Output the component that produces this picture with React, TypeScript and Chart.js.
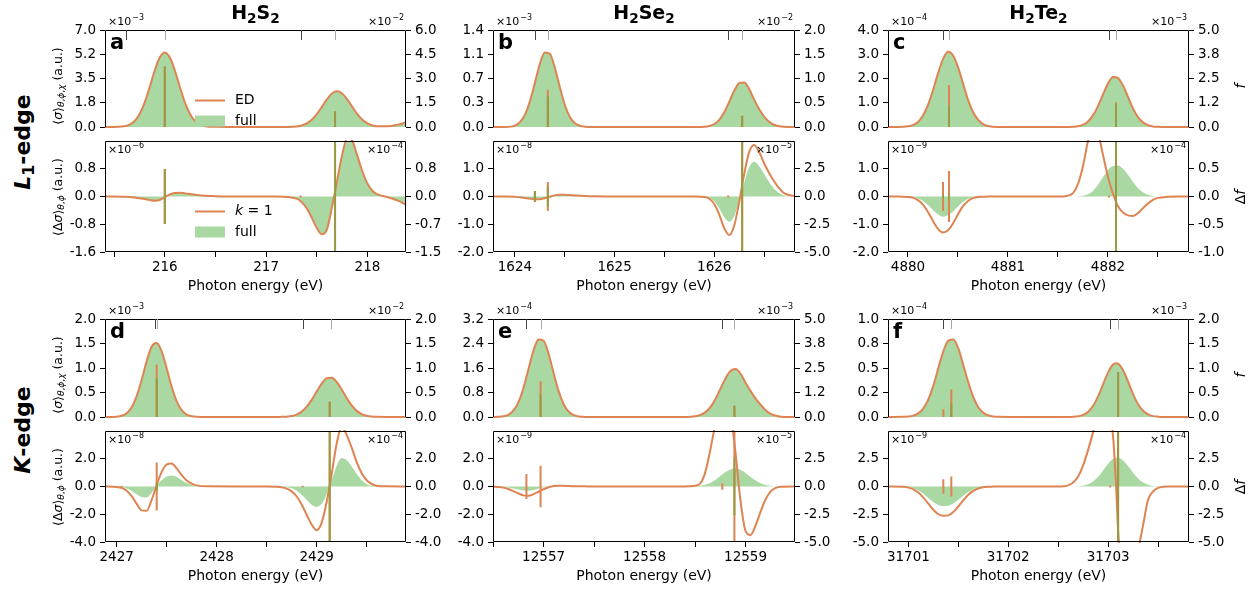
import React, { useEffect, useRef } from "react";
import { Chart, registerables } from "chart.js";
Chart.register(...registerables);

// ================= DATA =================
// ---- panel a : H2S2, L1-edge ----
const A_X = [215.41, 215.6, 215.7, 215.75, 215.8, 215.85, 215.9, 215.95, 216.0, 216.05, 216.1, 216.15, 216.2, 216.25, 216.3, 216.4, 216.5, 216.7, 216.9, 217.1, 217.3, 217.35, 217.4, 217.45, 217.5, 217.55, 217.6, 217.65, 217.7, 217.75, 217.8, 217.85, 217.9, 217.95, 218.0, 218.05, 218.1, 218.2, 218.3, 218.38];
const A_TOP = [0, 0.06, 0.42, 0.92, 1.74, 2.85, 4.06, 5.01, 5.38, 5.01, 4.06, 2.85, 1.74, 0.92, 0.42, 0.06, 0.01, 0, 0, 0, 0.04, 0.11, 0.26, 0.52, 0.93, 1.45, 2.0, 2.42, 2.58, 2.42, 2.0, 1.45, 0.93, 0.52, 0.26, 0.11, 0.05, 0.05, 0.17, 0.33];
const A_K1 = [0, -0.01, -0.03, -0.05, -0.07, -0.1, -0.12, -0.1, -0.02, 0.06, 0.1, 0.11, 0.09, 0.07, 0.05, 0.02, 0.01, 0, 0, 0, -0.06, -0.16, -0.34, -0.61, -0.91, -1.09, -0.95, -0.3, 0.45, 1.2, 1.68, 1.6, 1.17, 0.72, 0.37, 0.16, 0.06, -0.02, -0.12, -0.24];
const A_FULL = [0, -0.01, -0.03, -0.05, -0.07, -0.09, -0.11, -0.09, -0.02, 0.05, 0.09, 0.1, 0.08, 0.06, 0.04, 0.02, 0.01, 0, 0, 0, -0.05, -0.15, -0.32, -0.58, -0.88, -1.06, -0.93, -0.3, 0.42, 1.15, 1.6, 1.55, 1.15, 0.7, 0.36, 0.15, 0.05, -0.02, -0.1, -0.2];
const A_XRANGE = [215.41, 218.38];
const A_XMAJOR = [216, 217, 218];
const A_XMINOR = [215.5, 216.5, 217.5];
const A_TL = [0, 7];
const A_TL_LAB = ["0.0", "1.8", "3.5", "5.2", "7.0"];
const A_TR = [0, 6];
const A_TR_LAB = ["0.0", "1.5", "3.0", "4.5", "6.0"];
const A_BL = [-1.6, 1.6];
const A_BL_LAB = ["-1.6", "-0.8", "0.0", "0.8"];
const A_BR = [-1.5, 1.5];
const A_BR_LAB = ["-1.5", "-0.7", "0.0", "0.8"];
const A_EXP = ["-3", "-2", "-6", "-4"];
const A_ST_X = [216.0, 217.68];
const A_ST_ED = [3.75, 0.96];
const A_ST_FULL = [3.75, 0.96];
const A_SB_X = [216.0, 217.34, 217.68];
const A_SB_K1 = [0.74, 0.03, 2.0];
const A_SB_FULL = [0.74, 0, 2.0];
const A_MARKS = [215.62, 216.0, 217.34, 217.68];

// ---- panel b : H2Se2, L1-edge ----
const B_X = [1623.78, 1623.9, 1624.0, 1624.05, 1624.1, 1624.15, 1624.2, 1624.25, 1624.3, 1624.35, 1624.4, 1624.45, 1624.5, 1624.55, 1624.6, 1624.65, 1624.7, 1624.8, 1625.0, 1625.3, 1625.6, 1625.8, 1625.9, 1625.95, 1626.0, 1626.05, 1626.1, 1626.15, 1626.2, 1626.25, 1626.3, 1626.35, 1626.4, 1626.45, 1626.5, 1626.55, 1626.6, 1626.65, 1626.7, 1626.81];
const B_TOP = [0, 0, 0.02, 0.07, 0.175, 0.37, 0.635, 0.91, 1.077, 1.057, 0.858, 0.577, 0.321, 0.148, 0.057, 0.018, 0.005, 0, 0, 0, 0, 0, 0.004, 0.015, 0.043, 0.104, 0.212, 0.362, 0.522, 0.632, 0.643, 0.55, 0.395, 0.26, 0.15, 0.075, 0.032, 0.012, 0.004, 0];
const B_K1 = [0, 0, -0.01, -0.03, -0.05, -0.08, -0.1, -0.1, -0.06, -0.01, 0.04, 0.06, 0.06, 0.05, 0.04, 0.03, 0.02, 0.01, 0, 0, 0, 0, -0.02, -0.08, -0.27, -0.65, -1.14, -1.39, -1.05, -0.2, 0.8, 1.6, 1.86, 1.6, 1.2, 0.85, 0.55, 0.3, 0.12, 0.01];
const B_FULL = [0, 0, -0.01, -0.02, -0.04, -0.06, -0.08, -0.08, -0.05, -0.01, 0.03, 0.05, 0.05, 0.04, 0.03, 0.02, 0.01, 0.01, 0, 0, 0, 0, -0.01, -0.05, -0.17, -0.42, -0.75, -0.91, -0.7, -0.15, 0.5, 1.05, 1.25, 1.1, 0.82, 0.52, 0.28, 0.12, 0.04, 0];
const B_XRANGE = [1623.78, 1626.81];
const B_XMAJOR = [1624, 1625, 1626];
const B_XMINOR = [1624.5, 1625.5, 1626.5];
const B_TL = [0, 1.4];
const B_TL_LAB = ["0.0", "0.3", "0.7", "1.1", "1.4"];
const B_TR = [0, 2];
const B_TR_LAB = ["0.0", "0.5", "1.0", "1.5", "2.0"];
const B_BL = [-2, 2];
const B_BL_LAB = ["-2.0", "-1.0", "0.0", "1.0"];
const B_BR = [-5, 5];
const B_BR_LAB = ["-5.0", "-2.5", "0.0", "2.5"];
const B_EXP = ["-3", "-2", "-8", "-5"];
const B_ST_X = [1624.33, 1626.28];
const B_ST_ED = [0.77, 0.23];
const B_ST_FULL = [0.63, 0.23];
const B_SB_X = [1624.2, 1624.33, 1626.14, 1626.28];
const B_SB_K1 = [0.5, 1.3, 0.1, 6];
const B_SB_FULL = [0.5, 0.9, 0, 6];
const B_MARKS = [1624.2, 1624.33, 1626.14, 1626.28];

// ---- panel c : H2Te2, L1-edge ----
const C_X = [4879.8, 4879.9, 4880.0, 4880.05, 4880.1, 4880.15, 4880.2, 4880.25, 4880.3, 4880.35, 4880.4, 4880.45, 4880.5, 4880.55, 4880.6, 4880.65, 4880.7, 4880.75, 4880.8, 4880.9, 4881.1, 4881.3, 4881.5, 4881.55, 4881.6, 4881.65, 4881.7, 4881.75, 4881.8, 4881.85, 4881.9, 4881.95, 4882.0, 4882.05, 4882.1, 4882.15, 4882.2, 4882.25, 4882.3, 4882.35, 4882.4, 4882.45, 4882.5, 4882.6, 4882.7, 4882.81];
const C_TOP = [0, 0, 0.03, 0.08, 0.21, 0.47, 0.91, 1.52, 2.21, 2.8, 3.1, 2.96, 2.47, 1.8, 1.13, 0.62, 0.3, 0.12, 0.045, 0.003, 0, 0, 0, 0, 0.003, 0.01, 0.03, 0.09, 0.23, 0.48, 0.86, 1.34, 1.79, 2.06, 2.02, 1.71, 1.24, 0.77, 0.41, 0.19, 0.075, 0.025, 0.008, 0, 0, 0];
const C_K1 = [0, 0, -0.02, -0.05, -0.13, -0.29, -0.56, -0.88, -1.17, -1.3, -1.22, -0.97, -0.64, -0.35, -0.16, -0.06, -0.02, -0.01, 0, 0, 0, 0, 0, 0, 0.03, 0.12, 0.45, 1.1, 2.0, 2.6, 2.3, 1.5, 0.7, 0.1, -0.35, -0.58, -0.68, -0.7, -0.6, -0.42, -0.25, -0.12, -0.05, -0.01, 0, 0];
const C_FULL = [0, 0, -0.01, -0.03, -0.07, -0.16, -0.31, -0.49, -0.65, -0.73, -0.68, -0.54, -0.36, -0.2, -0.09, -0.03, -0.01, 0, 0, 0, 0, 0, 0, 0, 0, 0, 0.01, 0.03, 0.08, 0.2, 0.42, 0.7, 0.95, 1.1, 1.12, 1.0, 0.78, 0.52, 0.3, 0.15, 0.06, 0.02, 0, 0, 0, 0];
const C_XRANGE = [4879.8, 4882.81];
const C_XMAJOR = [4880, 4881, 4882];
const C_XMINOR = [4880.5, 4881.5, 4882.5];
const C_TL = [0, 4];
const C_TL_LAB = ["0.0", "1.0", "2.0", "3.0", "4.0"];
const C_TR = [0, 5];
const C_TR_LAB = ["0.0", "1.2", "2.5", "3.8", "5.0"];
const C_BL = [-2, 2];
const C_BL_LAB = ["-2.0", "-1.0", "0.0", "1.0"];
const C_BR = [-1, 1];
const C_BR_LAB = ["-1.0", "-0.5", "0.0", "0.5"];
const C_EXP = ["-4", "-3", "-9", "-4"];
const C_ST_X = [4880.41, 4882.08];
const C_ST_ED = [2.17, 1.27];
const C_ST_FULL = [1.1, 1.2];
const C_SB_X = [4880.35, 4880.41, 4882.01, 4882.08];
const C_SB_K1 = [0.26, 0.46, 0.02, 1.3];
const C_SB_FULL = [0.03, 0.05, 0, 1.3];
const C_MARKS = [4880.35, 4880.41, 4882.01, 4882.08];

// ---- panel d : H2S2, K-edge ----
const D_X = [2426.883, 2427.0, 2427.05, 2427.1, 2427.15, 2427.2, 2427.25, 2427.3, 2427.35, 2427.4, 2427.45, 2427.5, 2427.55, 2427.6, 2427.65, 2427.7, 2427.75, 2427.8, 2427.9, 2428.2, 2428.5, 2428.6, 2428.65, 2428.7, 2428.75, 2428.8, 2428.85, 2428.9, 2428.95, 2429.0, 2429.05, 2429.1, 2429.15, 2429.2, 2429.25, 2429.3, 2429.35, 2429.4, 2429.45, 2429.5, 2429.55, 2429.6, 2429.7, 2429.893];
const D_TOP = [0, 0.007, 0.026, 0.078, 0.2, 0.425, 0.76, 1.14, 1.44, 1.51, 1.34, 0.99, 0.615, 0.32, 0.14, 0.05, 0.016, 0.004, 0, 0, 0, 0, 0.004, 0.007, 0.02, 0.05, 0.11, 0.21, 0.35, 0.52, 0.68, 0.79, 0.8, 0.71, 0.56, 0.385, 0.235, 0.125, 0.06, 0.025, 0.009, 0.003, 0, 0];
const D_K1 = [0, -0.03, -0.1, -0.3, -0.7, -1.25, -1.72, -1.75, -0.95, 0.1, 1.05, 1.6, 1.65, 1.3, 0.82, 0.43, 0.2, 0.08, 0.01, 0, 0, -0.02, -0.06, -0.15, -0.35, -0.72, -1.3, -2.05, -2.75, -3.15, -2.6, -1.1, 0.9, 3.1, 4.3, 3.7, 2.8, 1.75, 0.95, 0.45, 0.18, 0.06, 0.01, 0];
const D_FULL = [0, -0.01, -0.05, -0.14, -0.32, -0.56, -0.76, -0.8, -0.45, 0.05, 0.45, 0.72, 0.8, 0.68, 0.45, 0.25, 0.11, 0.04, 0, 0, 0, 0, -0.02, -0.05, -0.13, -0.3, -0.6, -0.98, -1.32, -1.47, -1.25, -0.55, 0.45, 1.5, 2.05, 1.9, 1.45, 0.9, 0.45, 0.17, 0.05, 0.01, 0, 0];
const D_XRANGE = [2426.883, 2429.893];
const D_XMAJOR = [2427, 2428, 2429];
const D_XMINOR = [2427.5, 2428.5, 2429.5];
const D_TL = [0, 2];
const D_TL_LAB = ["0.0", "0.5", "1.0", "1.5", "2.0"];
const D_TR = [0, 2];
const D_TR_LAB = ["0.0", "0.5", "1.0", "1.5", "2.0"];
const D_BL = [-4, 4];
const D_BL_LAB = ["-4.0", "-2.0", "0.0", "2.0"];
const D_BR = [-4, 4];
const D_BR_LAB = ["-4.0", "-2.0", "0.0", "2.0"];
const D_EXP = ["-3", "-2", "-8", "-4"];
const D_ST_X = [2427.4, 2429.13];
const D_ST_ED = [1.07, 0.31];
const D_ST_FULL = [0.79, 0.31];
const D_SB_X = [2427.05, 2427.4, 2428.86, 2429.13];
const D_SB_K1 = [0.05, 1.73, 0.05, 5];
const D_SB_FULL = [0, 0.3, 0, 5];
const D_MARKS = [2427.38, 2427.4, 2428.86, 2429.14];

// ---- panel e : H2Se2, K-edge ----
const E_X = [12556.5, 12556.55, 12556.6, 12556.65, 12556.7, 12556.75, 12556.8, 12556.85, 12556.9, 12556.95, 12557.0, 12557.05, 12557.1, 12557.15, 12557.2, 12557.25, 12557.3, 12557.35, 12557.4, 12557.5, 12557.8, 12558.1, 12558.4, 12558.45, 12558.5, 12558.55, 12558.6, 12558.65, 12558.7, 12558.75, 12558.8, 12558.85, 12558.9, 12558.95, 12559.0, 12559.05, 12559.1, 12559.15, 12559.2, 12559.25, 12559.3, 12559.35, 12559.49];
const E_TOP = [0, 0.005, 0.022, 0.073, 0.205, 0.48, 0.94, 1.56, 2.17, 2.53, 2.49, 2.06, 1.43, 0.835, 0.41, 0.17, 0.059, 0.017, 0.004, 0, 0, 0, 0, 0.007, 0.023, 0.063, 0.151, 0.315, 0.575, 0.91, 1.25, 1.5, 1.57, 1.42, 1.12, 0.85, 0.6, 0.4, 0.22, 0.1, 0.04, 0.01, 0];
const E_K1 = [0, -0.03, -0.08, -0.18, -0.33, -0.5, -0.64, -0.66, -0.55, -0.38, -0.2, -0.05, 0.04, 0.06, 0.05, 0.03, 0.02, 0.01, 0.01, 0, 0, 0, 0, 0.01, 0.05, 0.2, 1.0, 2.6, 4.5, 6.5, 7.5, 5.4, 2.5, -1.0, -3.2, -3.5, -2.8, -1.8, -0.9, -0.35, -0.1, -0.02, 0];
const E_FULL = [0, 0, -0.03, -0.07, -0.14, -0.22, -0.29, -0.3, -0.25, -0.15, -0.06, -0.01, 0, 0, 0, 0, 0, 0, 0, 0, 0, 0, 0, 0, 0.02, 0.05, 0.12, 0.26, 0.47, 0.75, 1.03, 1.23, 1.29, 1.2, 0.98, 0.7, 0.43, 0.23, 0.1, 0.04, 0.01, 0, 0];
const E_XRANGE = [12556.499, 12559.49];
const E_XMAJOR = [12557, 12558, 12559];
const E_XMINOR = [12556.5, 12557.5, 12558.5];
const E_TL = [0, 3.2];
const E_TL_LAB = ["0.0", "0.8", "1.6", "2.4", "3.2"];
const E_TR = [0, 5];
const E_TR_LAB = ["0.0", "1.2", "2.5", "3.8", "5.0"];
const E_BL = [-4, 4];
const E_BL_LAB = ["-4.0", "-2.0", "0.0", "2.0"];
const E_BR = [-5, 5];
const E_BR_LAB = ["-5.0", "-2.5", "0.0", "2.5"];
const E_EXP = ["-4", "-3", "-9", "-5"];
const E_ST_X = [12556.97, 12558.89];
const E_ST_ED = [1.82, 0.58];
const E_ST_FULL = [1.15, 0.58];
const E_SB_X = [12556.83, 12556.97, 12558.77, 12558.89];
const E_SB_K1 = [1.13, 1.88, 0.3, 6];
const E_SB_FULL = [0, 0, 0, 2.6];
const E_MARKS = [12556.83, 12556.97, 12558.77, 12558.89];

// ---- panel f : H2Te2, K-edge ----
const F_X = [31700.796, 31700.95, 31701.0, 31701.05, 31701.1, 31701.15, 31701.2, 31701.25, 31701.3, 31701.35, 31701.4, 31701.45, 31701.5, 31701.55, 31701.6, 31701.65, 31701.7, 31701.75, 31701.8, 31701.85, 31701.9, 31702.2, 31702.5, 31702.55, 31702.6, 31702.65, 31702.7, 31702.75, 31702.8, 31702.85, 31702.9, 31702.95, 31703.0, 31703.05, 31703.08, 31703.1, 31703.15, 31703.2, 31703.25, 31703.3, 31703.35, 31703.4, 31703.45, 31703.5, 31703.55, 31703.6, 31703.7, 31703.81];
const F_TOP = [0, 0.002, 0.004, 0.014, 0.037, 0.088, 0.18, 0.32, 0.5, 0.67, 0.78, 0.79, 0.7, 0.53, 0.354, 0.204, 0.1, 0.044, 0.017, 0.005, 0.002, 0, 0, 0, 0, 0.002, 0.008, 0.022, 0.054, 0.115, 0.21, 0.334, 0.455, 0.535, 0.548, 0.544, 0.476, 0.36, 0.234, 0.131, 0.064, 0.027, 0.009, 0.003, 0, 0, 0, 0];
const F_K1 = [0, -0.03, -0.1, -0.25, -0.55, -1.0, -1.55, -2.1, -2.5, -2.64, -2.6, -2.3, -1.8, -1.25, -0.75, -0.4, -0.18, -0.07, -0.02, -0.01, 0, 0, 0, 0.02, 0.1, 0.35, 0.9, 1.9, 3.3, 4.9, 6.5, 7.5, 7.0, 4.5, 0, -4, -9, -10, -8.5, -5.8, -3.5, -1.2, -0.45, -0.12, -0.03, 0, 0, 0];
const F_FULL = [0, 0, -0.05, -0.15, -0.35, -0.66, -1.04, -1.4, -1.67, -1.77, -1.74, -1.54, -1.2, -0.84, -0.5, -0.26, -0.12, -0.04, -0.01, 0, 0, 0, 0, 0, 0, 0.01, 0.02, 0.07, 0.2, 0.45, 0.88, 1.45, 2.05, 2.5, 2.58, 2.6, 2.35, 1.85, 1.25, 0.72, 0.36, 0.15, 0.05, 0.015, 0, 0, 0, 0];
const F_XRANGE = [31700.796, 31703.81];
const F_XMAJOR = [31701, 31702, 31703];
const F_XMINOR = [31701.5, 31702.5, 31703.5];
const F_TL = [0, 1];
const F_TL_LAB = ["0.0", "0.2", "0.5", "0.8", "1.0"];
const F_TR = [0, 2];
const F_TR_LAB = ["0.0", "0.5", "1.0", "1.5", "2.0"];
const F_BL = [-5, 5];
const F_BL_LAB = ["-5.0", "-2.5", "0.0", "2.5"];
const F_BR = [-5, 5];
const F_BR_LAB = ["-5.0", "-2.5", "0.0", "2.5"];
const F_EXP = ["-4", "-3", "-9", "-4"];
const F_ST_X = [31701.35, 31701.43, 31703.1];
const F_ST_ED = [0.16, 0.56, 0.92];
const F_ST_FULL = [0, 0.28, 0.92];
const F_SB_X = [31701.35, 31701.43, 31703.02, 31703.1];
const F_SB_K1 = [0.65, 0.9, 0.1, 6];
const F_SB_FULL = [0, 0, 0, 6];
const F_MARKS = [31701.35, 31701.43, 31703.02, 31703.1];

const MOLECULES = ["S", "Se", "Te"];
const EDGES = ["L1", "K"];

// ================= STYLE / LAYOUT =================
const FONT = "'DejaVu Sans', 'Liberation Sans', sans-serif";
const ORANGE = "#dd8452";
const FILL = "rgb(170, 216, 163)";
const OLIVE = "#9a9a44";
const COLS = [
  { l: 105, r: 406 },
  { l: 493, r: 795 },
  { l: 888, r: 1189 },
];
const ROWS = [
  { t: 30, m: 141, b: 252 },
  { t: 319, m: 431, b: 542 },
];
const PADL = 50;
const PADR = 50;

type Panel = {
  letter: string; col: number; row: number;
  xs: number[]; top: number[]; k1: number[]; full: number[];
  xr: number[]; xmaj: number[]; xmin: number[];
  tl: number[]; tlLab: string[]; tr: number[]; trLab: string[];
  bl: number[]; blLab: string[]; br: number[]; brLab: string[];
  exp: string[];
  stX: number[]; stEd: number[]; stFull: number[];
  sbX: number[]; sbK1: number[]; sbFull: number[];
  marks: number[];
};

const PANELS: Panel[] = [
  { letter: "a", col: 0, row: 0, xs: A_X, top: A_TOP, k1: A_K1, full: A_FULL, xr: A_XRANGE, xmaj: A_XMAJOR, xmin: A_XMINOR, tl: A_TL, tlLab: A_TL_LAB, tr: A_TR, trLab: A_TR_LAB, bl: A_BL, blLab: A_BL_LAB, br: A_BR, brLab: A_BR_LAB, exp: A_EXP, stX: A_ST_X, stEd: A_ST_ED, stFull: A_ST_FULL, sbX: A_SB_X, sbK1: A_SB_K1, sbFull: A_SB_FULL, marks: A_MARKS },
  { letter: "b", col: 1, row: 0, xs: B_X, top: B_TOP, k1: B_K1, full: B_FULL, xr: B_XRANGE, xmaj: B_XMAJOR, xmin: B_XMINOR, tl: B_TL, tlLab: B_TL_LAB, tr: B_TR, trLab: B_TR_LAB, bl: B_BL, blLab: B_BL_LAB, br: B_BR, brLab: B_BR_LAB, exp: B_EXP, stX: B_ST_X, stEd: B_ST_ED, stFull: B_ST_FULL, sbX: B_SB_X, sbK1: B_SB_K1, sbFull: B_SB_FULL, marks: B_MARKS },
  { letter: "c", col: 2, row: 0, xs: C_X, top: C_TOP, k1: C_K1, full: C_FULL, xr: C_XRANGE, xmaj: C_XMAJOR, xmin: C_XMINOR, tl: C_TL, tlLab: C_TL_LAB, tr: C_TR, trLab: C_TR_LAB, bl: C_BL, blLab: C_BL_LAB, br: C_BR, brLab: C_BR_LAB, exp: C_EXP, stX: C_ST_X, stEd: C_ST_ED, stFull: C_ST_FULL, sbX: C_SB_X, sbK1: C_SB_K1, sbFull: C_SB_FULL, marks: C_MARKS },
  { letter: "d", col: 0, row: 1, xs: D_X, top: D_TOP, k1: D_K1, full: D_FULL, xr: D_XRANGE, xmaj: D_XMAJOR, xmin: D_XMINOR, tl: D_TL, tlLab: D_TL_LAB, tr: D_TR, trLab: D_TR_LAB, bl: D_BL, blLab: D_BL_LAB, br: D_BR, brLab: D_BR_LAB, exp: D_EXP, stX: D_ST_X, stEd: D_ST_ED, stFull: D_ST_FULL, sbX: D_SB_X, sbK1: D_SB_K1, sbFull: D_SB_FULL, marks: D_MARKS },
  { letter: "e", col: 1, row: 1, xs: E_X, top: E_TOP, k1: E_K1, full: E_FULL, xr: E_XRANGE, xmaj: E_XMAJOR, xmin: E_XMINOR, tl: E_TL, tlLab: E_TL_LAB, tr: E_TR, trLab: E_TR_LAB, bl: E_BL, blLab: E_BL_LAB, br: E_BR, brLab: E_BR_LAB, exp: E_EXP, stX: E_ST_X, stEd: E_ST_ED, stFull: E_ST_FULL, sbX: E_SB_X, sbK1: E_SB_K1, sbFull: E_SB_FULL, marks: E_MARKS },
  { letter: "f", col: 2, row: 1, xs: F_X, top: F_TOP, k1: F_K1, full: F_FULL, xr: F_XRANGE, xmaj: F_XMAJOR, xmin: F_XMINOR, tl: F_TL, tlLab: F_TL_LAB, tr: F_TR, trLab: F_TR_LAB, bl: F_BL, blLab: F_BL_LAB, br: F_BR, brLab: F_BR_LAB, exp: F_EXP, stX: F_ST_X, stEd: F_ST_ED, stFull: F_ST_FULL, sbX: F_SB_X, sbK1: F_SB_K1, sbFull: F_SB_FULL, marks: F_MARKS },
];

type Sub = {
  id: string; isTop: boolean;
  left: number; top: number; w: number; h: number;
  xs: number[]; line: number[]; fill: number[];
  xr: number[]; xmaj: number[]; xmin: number[];
  yL: number[]; yLLab: string[]; yLExp: string;
  yR: number[]; yRLab: string[]; yRExp: string;
  sX: number[]; sOr: number[]; sOl: number[];
  marks: number[]; letter: string; legend: string;
};

function buildSubs(): Sub[] {
  const out: Sub[] = [];
  PANELS.forEach((p) => {
    const c = COLS[p.col];
    const r = ROWS[p.row];
    out.push({
      id: p.letter + "t", isTop: true, left: c.l, top: r.t, w: c.r - c.l, h: r.m - r.t,
      xs: p.xs, line: p.top, fill: p.top, xr: p.xr, xmaj: p.xmaj, xmin: p.xmin,
      yL: p.tl, yLLab: p.tlLab, yLExp: p.exp[0], yR: p.tr, yRLab: p.trLab, yRExp: p.exp[1],
      sX: p.stX, sOr: p.stEd, sOl: p.stFull, marks: p.marks, letter: p.letter,
      legend: p.letter === "a" ? "ED" : "",
    });
    out.push({
      id: p.letter + "b", isTop: false, left: c.l, top: r.m, w: c.r - c.l, h: r.b - r.m,
      xs: p.xs, line: p.k1, fill: p.full, xr: p.xr, xmaj: p.xmaj, xmin: p.xmin,
      yL: p.bl, yLLab: p.blLab, yLExp: p.exp[2], yR: p.br, yRLab: p.brLab, yRExp: p.exp[3],
      sX: p.sbX, sOr: p.sbK1, sOl: p.sbFull, marks: [], letter: "",
      legend: p.letter === "a" ? "k" : "",
    });
  });
  return out;
}

function drawExp(ctx: CanvasRenderingContext2D, x: number, y: number, exp: string, right: boolean) {
  const f1 = `11px ${FONT}`;
  const f2 = `8px ${FONT}`;
  const base = "×10";
  const sup = exp.replace("-", "−");
  ctx.font = f1;
  const w1 = ctx.measureText(base).width;
  ctx.font = f2;
  const w2 = ctx.measureText(sup).width;
  const x0 = right ? x - w1 - w2 - 1 : x;
  ctx.fillStyle = "#000";
  ctx.textAlign = "left";
  ctx.textBaseline = "alphabetic";
  ctx.font = f1;
  ctx.fillText(base, x0, y);
  ctx.font = f2;
  ctx.fillText(sup, x0 + w1 + 1, y - 5);
}

function SubPlot({ s }: { s: Sub }) {
  const ref = useRef<HTMLCanvasElement | null>(null);
  const padT = s.isTop ? 24 : 16;
  const padB = s.isTop ? 14 : 44;
  const cw = s.w + PADL + PADR;
  const ch = s.h + padT + padB;

  useEffect(() => {
    const canvas = ref.current;
    if (!canvas) return;
    const lin = (r: number[], n: number) =>
      Array.from({ length: n }, (_, i) => r[0] + ((r[1] - r[0]) * i) / 4);
    const ytL = lin(s.yL, s.yLLab.length);
    const ytR = lin(s.yR, s.yRLab.length);
    const xt = [...s.xmaj, ...s.xmin]
      .filter((v) => v >= s.xr[0] - 1e-6 && v <= s.xr[1] + 1e-6)
      .sort((a, b) => a - b);
    const majSet = new Set(s.xmaj);
    const tickFont = { family: FONT, size: 13.5 };
    const grid = { drawOnChartArea: false, drawTicks: true, tickLength: 5, color: "#000", lineWidth: 1 };
    const stick = (xs: number[], hs: number[], sym: boolean) => {
      const o: any[] = [];
      xs.forEach((x, i) => {
        if (hs[i] > 0) o.push({ x, y: sym ? -hs[i] : 0 }, { x, y: hs[i] }, { x, y: null });
      });
      return o;
    };
    const curve = (ys: number[]) => s.xs.map((x, i) => ({ x, y: ys[i] }));

    const deco = {
      id: "deco",
      afterDraw(chart: any) {
        const ctx: CanvasRenderingContext2D = chart.ctx;
        const ca = chart.chartArea;
        const xs = chart.scales.x;
        ctx.save();
        // frame
        ctx.strokeStyle = "#000";
        ctx.lineWidth = 1;
        ctx.beginPath();
        if (s.isTop) {
          ctx.moveTo(ca.left + 0.5, ca.bottom);
          ctx.lineTo(ca.left + 0.5, ca.top + 0.5);
          ctx.lineTo(ca.right - 0.5, ca.top + 0.5);
          ctx.lineTo(ca.right - 0.5, ca.bottom);
        } else {
          ctx.rect(ca.left + 0.5, ca.top + 0.5, ca.right - ca.left - 1, ca.bottom - ca.top - 1);
        }
        ctx.stroke();
        // transition markers
        s.marks.forEach((m, i) => {
          const px = Math.round(xs.getPixelForValue(m)) + 0.5;
          ctx.strokeStyle = i % 2 === 0 ? "#444" : "#a8a8a8";
          ctx.lineWidth = 1;
          ctx.beginPath();
          ctx.moveTo(px, ca.top);
          ctx.lineTo(px, ca.top + 10);
          ctx.stroke();
        });
        // offset texts
        if (s.isTop) {
          drawExp(ctx, ca.left + 3, ca.top - 5, s.yLExp, false);
          drawExp(ctx, ca.right - 2, ca.top - 5, s.yRExp, true);
        } else {
          drawExp(ctx, ca.left + 3, ca.top + 12, s.yLExp, false);
          drawExp(ctx, ca.right - 3, ca.top + 12, s.yRExp, true);
        }
        // panel letter
        if (s.letter) {
          ctx.fillStyle = "#000";
          ctx.font = `bold 21px ${FONT}`;
          ctx.textAlign = "left";
          ctx.textBaseline = "alphabetic";
          ctx.fillText(s.letter, ca.left + 5, ca.top + 19);
        }
        // legend
        if (s.legend) {
          const lx = ca.left + 90;
          const ly = ca.top + 70.5;
          ctx.strokeStyle = ORANGE;
          ctx.lineWidth = 2;
          ctx.beginPath();
          ctx.moveTo(lx, ly);
          ctx.lineTo(lx + 30, ly);
          ctx.stroke();
          ctx.fillStyle = FILL;
          ctx.fillRect(lx, ly + 15, 30, 11);
          ctx.fillStyle = "#000";
          ctx.textBaseline = "middle";
          ctx.textAlign = "left";
          if (s.legend === "ED") {
            ctx.font = `14px ${FONT}`;
            ctx.fillText("ED", lx + 40, ly);
          } else {
            ctx.font = `italic 14px ${FONT}`;
            ctx.fillText("k", lx + 40, ly);
            const wk = ctx.measureText("k").width;
            ctx.font = `14px ${FONT}`;
            ctx.fillText(" = 1", lx + 40 + wk, ly);
          }
          ctx.font = `14px ${FONT}`;
          ctx.fillText("full", lx + 40, ly + 20.5);
        }
        ctx.restore();
      },
    };

    const lineDs = (data: any[], color: string) => ({
      data, yAxisID: "yR", borderColor: color, borderWidth: 2, pointRadius: 0,
      tension: 0, spanGaps: false, fill: false, clip: 0,
    });

    const chart = new Chart(canvas, {
      type: "line",
      data: {
        datasets: [
          lineDs(stick(s.sX, s.sOl, !s.isTop), OLIVE),
          lineDs(stick(s.sX, s.sOr, !s.isTop), ORANGE),
          {
            data: curve(s.line), yAxisID: "yL", borderColor: ORANGE, borderWidth: 2,
            pointRadius: 0, cubicInterpolationMode: "monotone", fill: false, clip: 1,
          },
          {
            data: curve(s.fill), yAxisID: "yL", borderColor: "rgba(0,0,0,0)", borderWidth: 0,
            backgroundColor: FILL, pointRadius: 0, cubicInterpolationMode: "monotone",
            fill: "origin", clip: 0,
          },
        ] as any,
      },
      options: {
        animation: false,
        responsive: false,
        maintainAspectRatio: false,
        devicePixelRatio: 1,
        events: [],
        layout: { padding: { top: padT, bottom: s.isTop ? padB : 0, left: 0, right: 0 } },
        plugins: { legend: { display: false }, tooltip: { enabled: false } },
        scales: {
          x: {
            type: "linear",
            display: !s.isTop,
            min: s.xr[0],
            max: s.xr[1],
            afterBuildTicks: (ax: any) => { ax.ticks = xt.map((v) => ({ value: v })); },
            afterFit: (ax: any) => { ax.height = padB; },
            ticks: {
              autoSkip: false, maxRotation: 0, minRotation: 0, padding: 2, color: "#000", font: tickFont,
              callback: (v: any) => (majSet.has(v) ? String(v) : ""),
            },
            grid,
            border: { display: false },
            title: {
              display: true, text: "Photon energy (eV)", color: "#000",
              font: { family: FONT, size: 14 }, padding: { top: 0, bottom: 1 },
            },
          },
          yL: {
            type: "linear", position: "left", min: s.yL[0], max: s.yL[1],
            afterBuildTicks: (ax: any) => { ax.ticks = ytL.map((v) => ({ value: v })); },
            afterFit: (ax: any) => { ax.width = PADL; },
            ticks: { autoSkip: false, padding: 4, color: "#000", font: tickFont, callback: (_v: any, i: number) => s.yLLab[i] },
            grid,
            border: { display: false },
          },
          yR: {
            type: "linear", position: "right", min: s.yR[0], max: s.yR[1],
            afterBuildTicks: (ax: any) => { ax.ticks = ytR.map((v) => ({ value: v })); },
            afterFit: (ax: any) => { ax.width = PADR; },
            ticks: { autoSkip: false, padding: 4, color: "#000", font: tickFont, callback: (_v: any, i: number) => s.yRLab[i] },
            grid,
            border: { display: false },
          },
        },
      } as any,
      plugins: [deco as any],
    });
    return () => chart.destroy();
  }, []);

  return (
    <canvas
      ref={ref}
      width={cw}
      height={ch}
      style={{ position: "absolute", left: s.left - PADL, top: s.top - padT, width: cw, height: ch }}
    />
  );
}

const rot: React.CSSProperties = {
  position: "absolute",
  transform: "translate(-50%, -50%) rotate(-90deg)",
  whiteSpace: "nowrap",
  fontFamily: FONT,
  color: "#000",
};

export default function App() {
  const subs = buildSubs();
  const colCenters = COLS.map((c) => (c.l + c.r) / 2);
  const subStyle: React.CSSProperties = { fontSize: "0.72em", verticalAlign: "-0.28em", lineHeight: 0 };
  return (
    <div style={{ position: "absolute", left: 0, top: 0, width: 1253, height: 592, background: "#fff", overflow: "hidden" }}>
      {subs.map((s) => (
        <SubPlot key={s.id} s={s} />
      ))}
      {MOLECULES.map((m, i) => (
        <div
          key={m}
          style={{
            position: "absolute", left: colCenters[i], top: 1, transform: "translateX(-50%)",
            fontFamily: FONT, fontWeight: "bold", fontSize: 19, lineHeight: "22px", whiteSpace: "nowrap",
          }}
        >
          H<span style={subStyle}>2</span>{m}<span style={subStyle}>2</span>
        </div>
      ))}
      {EDGES.map((e, i) => (
        <div key={e} style={{ ...rot, left: 22, top: i === 0 ? 142 : 430, fontWeight: "bold", fontSize: 22 }}>
          {e === "L1" ? (
            <span>
              <i>L</i>
              <span style={subStyle}>1</span>-edge
            </span>
          ) : (
            <span>
              <i>K</i>-edge
            </span>
          )}
        </div>
      ))}
      {ROWS.map((r, i) => (
        <React.Fragment key={"lt" + i}>
          <div style={{ ...rot, left: 57, top: (r.t + r.m) / 2, fontSize: 12.5 }}>
            ⟨<i>σ</i>⟩<span style={subStyle}><i>θ</i>,<i>ϕ</i>,<i>χ</i></span> (a.u.)
          </div>
          <div style={{ ...rot, left: 57, top: (r.m + r.b) / 2, fontSize: 12.5 }}>
            ⟨Δ<i>σ</i>⟩<span style={subStyle}><i>θ</i>,<i>ϕ</i></span> (a.u.)
          </div>
          <div style={{ ...rot, left: 1240, top: (r.t + r.m) / 2, fontSize: 14 }}>
            <i>f</i>
          </div>
          <div style={{ ...rot, left: 1240, top: (r.m + r.b) / 2, fontSize: 14 }}>
            Δ<i>f</i>
          </div>
        </React.Fragment>
      ))}
    </div>
  );
}
